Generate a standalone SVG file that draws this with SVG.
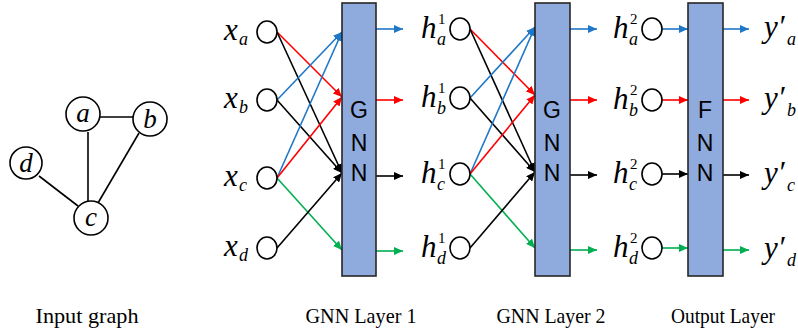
<svg xmlns="http://www.w3.org/2000/svg" width="798" height="332" viewBox="0 0 798 332">
<style>
.nd{fill:#fff;stroke:#000;stroke-width:1.6}
.ed{stroke:#000;stroke-width:1.6;fill:none}
.box{fill:#8faadc;stroke:#262626;stroke-width:1.6}
.bt{font-family:"Liberation Sans",Arial,sans-serif;font-size:23px;fill:#000;text-anchor:middle}
.gl{font-family:"Liberation Serif","Times New Roman",serif;font-style:italic;font-size:27px;fill:#000;text-anchor:middle}
.m{font-family:"Liberation Serif","Times New Roman",serif;font-style:italic;font-size:31px;fill:#000}
.s{font-family:"Liberation Serif","Times New Roman",serif;font-style:italic;font-size:18px;fill:#000}
.su{font-family:"Liberation Serif","Times New Roman",serif;font-size:15px;fill:#000}
.cap{font-family:"Liberation Serif","Times New Roman",serif;font-size:21px;fill:#000;text-anchor:middle}
.bl{stroke:#1f77c8;stroke-width:1.6;fill:none;marker-end:url(#ab)}
.rd{stroke:#ff0000;stroke-width:1.6;fill:none;marker-end:url(#ar)}
.bk{stroke:#000;stroke-width:1.6;fill:none;marker-end:url(#ak)}
.gr{stroke:#00b050;stroke-width:1.6;fill:none;marker-end:url(#ag)}
</style>
<defs>
<marker id="ab" markerUnits="userSpaceOnUse" markerWidth="10" markerHeight="8" refX="9" refY="4" orient="auto"><path d="M0,0 L9,4 L0,8 z" fill="#1f77c8"/></marker>
<marker id="ar" markerUnits="userSpaceOnUse" markerWidth="10" markerHeight="8" refX="9" refY="4" orient="auto"><path d="M0,0 L9,4 L0,8 z" fill="#ff0000"/></marker>
<marker id="ak" markerUnits="userSpaceOnUse" markerWidth="10" markerHeight="8" refX="9" refY="4" orient="auto"><path d="M0,0 L9,4 L0,8 z" fill="#000"/></marker>
<marker id="ag" markerUnits="userSpaceOnUse" markerWidth="10" markerHeight="8" refX="9" refY="4" orient="auto"><path d="M0,0 L9,4 L0,8 z" fill="#00b050"/></marker>
</defs>

<g id="connectors">
<line class="ed" x1="99" y1="117" x2="133" y2="117"/>
<line class="ed" x1="88" y1="132" x2="88" y2="201"/>
<line class="ed" x1="139" y1="133" x2="98" y2="203"/>
<line class="ed" x1="39" y1="176" x2="78" y2="206"/>

<line class="rd" x1="277" y1="32" x2="342" y2="97"/>
<line class="bk" x1="277" y1="32" x2="342" y2="173"/>
<line class="bl" x1="277" y1="100" x2="342" y2="32"/>
<line class="bk" x1="277" y1="100" x2="342" y2="173"/>
<line class="bl" x1="277" y1="178" x2="342" y2="32"/>
<line class="rd" x1="277" y1="178" x2="342" y2="97"/>
<line class="gr" x1="277" y1="178" x2="342" y2="250"/>
<line class="bk" x1="277" y1="248" x2="342" y2="173"/>

<line class="bl" x1="376" y1="29" x2="403" y2="29"/>
<line class="rd" x1="376" y1="100" x2="403" y2="100"/>
<line class="bk" x1="376" y1="176" x2="403" y2="176"/>
<line class="gr" x1="376" y1="251" x2="403" y2="251"/>

<line class="rd" x1="470" y1="29" x2="535" y2="95"/>
<line class="bk" x1="470" y1="29" x2="535" y2="172"/>
<line class="bl" x1="470" y1="98" x2="535" y2="27"/>
<line class="bk" x1="470" y1="98" x2="535" y2="172"/>
<line class="bl" x1="470" y1="174" x2="535" y2="27"/>
<line class="rd" x1="470" y1="174" x2="535" y2="95"/>
<line class="gr" x1="470" y1="174" x2="535" y2="248"/>
<line class="bk" x1="470" y1="248" x2="535" y2="172"/>

<line class="bl" x1="570" y1="29" x2="597" y2="29"/>
<line class="rd" x1="570" y1="100" x2="597" y2="100"/>
<line class="bk" x1="570" y1="175" x2="597" y2="175"/>
<line class="gr" x1="570" y1="250" x2="597" y2="250"/>

<line class="bl" x1="662" y1="29" x2="688" y2="29"/>
<line class="rd" x1="662" y1="100" x2="688" y2="100"/>
<line class="bk" x1="662" y1="174" x2="688" y2="174"/>
<line class="gr" x1="662" y1="248" x2="688" y2="248"/>

<line class="bl" x1="723" y1="29" x2="749" y2="29"/>
<line class="rd" x1="723" y1="100" x2="749" y2="100"/>
<line class="bk" x1="723" y1="175" x2="749" y2="175"/>
<line class="gr" x1="723" y1="250" x2="749" y2="250"/>
</g>

<g id="graph-a"><circle class="nd" cx="83" cy="114" r="17"/><text class="gl" x="83" y="122">a</text></g>
<g id="graph-b"><circle class="nd" cx="150" cy="119" r="17"/><text class="gl" x="150" y="128">b</text></g>
<g id="graph-d"><circle class="nd" cx="26" cy="163" r="16"/><text class="gl" x="26" y="172">d</text></g>
<g id="graph-c"><circle class="nd" cx="91" cy="218" r="17"/><text class="gl" x="91" y="226">c</text></g>

<g id="x-a"><ellipse class="nd" cx="267" cy="32" rx="10" ry="11"/><text class="m" x="224" y="40">x</text><text class="s" x="239" y="45">a</text></g>
<g id="x-b"><ellipse class="nd" cx="267" cy="100" rx="10" ry="11"/><text class="m" x="224" y="108">x</text><text class="s" x="239" y="113">b</text></g>
<g id="x-c"><ellipse class="nd" cx="267" cy="178" rx="10" ry="11"/><text class="m" x="224" y="186">x</text><text class="s" x="239" y="191">c</text></g>
<g id="x-d"><ellipse class="nd" cx="267" cy="248" rx="10" ry="11"/><text class="m" x="224" y="256">x</text><text class="s" x="239" y="261">d</text></g>

<g id="gnn1"><rect class="box" x="342" y="3" width="34" height="273"/><text class="bt" x="359" y="118">G</text><text class="bt" x="359" y="151">N</text><text class="bt" x="359" y="181">N</text></g>

<g id="h1-a"><ellipse class="nd" cx="460" cy="29" rx="10" ry="11"/><text class="m" x="421" y="38">h</text><text class="su" x="438" y="24">1</text><text class="s" x="437" y="45">a</text></g>
<g id="h1-b"><ellipse class="nd" cx="460" cy="98" rx="10" ry="11"/><text class="m" x="421" y="107">h</text><text class="su" x="438" y="93">1</text><text class="s" x="437" y="114">b</text></g>
<g id="h1-c"><ellipse class="nd" cx="460" cy="174" rx="10" ry="11"/><text class="m" x="421" y="183">h</text><text class="su" x="438" y="169">1</text><text class="s" x="437" y="190">c</text></g>
<g id="h1-d"><ellipse class="nd" cx="460" cy="248" rx="10" ry="11"/><text class="m" x="421" y="257">h</text><text class="su" x="438" y="243">1</text><text class="s" x="437" y="264">d</text></g>

<g id="gnn2"><rect class="box" x="535" y="3" width="35" height="273"/><text class="bt" x="552" y="118">G</text><text class="bt" x="552" y="151">N</text><text class="bt" x="552" y="181">N</text></g>

<g id="h2-a"><ellipse class="nd" cx="652" cy="29" rx="10" ry="11"/><text class="m" x="613" y="38">h</text><text class="su" x="630" y="24">2</text><text class="s" x="629" y="45">a</text></g>
<g id="h2-b"><ellipse class="nd" cx="652" cy="100" rx="10" ry="11"/><text class="m" x="613" y="109">h</text><text class="su" x="630" y="95">2</text><text class="s" x="629" y="116">b</text></g>
<g id="h2-c"><ellipse class="nd" cx="652" cy="174" rx="10" ry="11"/><text class="m" x="613" y="183">h</text><text class="su" x="630" y="169">2</text><text class="s" x="629" y="190">c</text></g>
<g id="h2-d"><ellipse class="nd" cx="652" cy="248" rx="10" ry="11"/><text class="m" x="613" y="257">h</text><text class="su" x="630" y="243">2</text><text class="s" x="629" y="264">d</text></g>

<g id="fnn"><rect class="box" x="688" y="3" width="35" height="273"/><text class="bt" x="705" y="118">F</text><text class="bt" x="705" y="151">N</text><text class="bt" x="705" y="181">N</text></g>

<g id="y-a"><text class="m" x="764" y="37">y′</text><text class="s" x="787" y="45">a</text></g>
<g id="y-b"><text class="m" x="764" y="108">y′</text><text class="s" x="787" y="116">b</text></g>
<g id="y-c"><text class="m" x="764" y="183">y′</text><text class="s" x="787" y="191">c</text></g>
<g id="y-d"><text class="m" x="764" y="258">y′</text><text class="s" x="787" y="266">d</text></g>

<g id="captions">
<text class="cap" x="87" y="323" textLength="103" lengthAdjust="spacingAndGlyphs">Input graph</text>
<text class="cap" x="361" y="323" textLength="111" lengthAdjust="spacingAndGlyphs">GNN Layer 1</text>
<text class="cap" x="551" y="323" textLength="109" lengthAdjust="spacingAndGlyphs">GNN Layer 2</text>
<text class="cap" x="723" y="323" textLength="104" lengthAdjust="spacingAndGlyphs">Output Layer</text>
</g>
</svg>
